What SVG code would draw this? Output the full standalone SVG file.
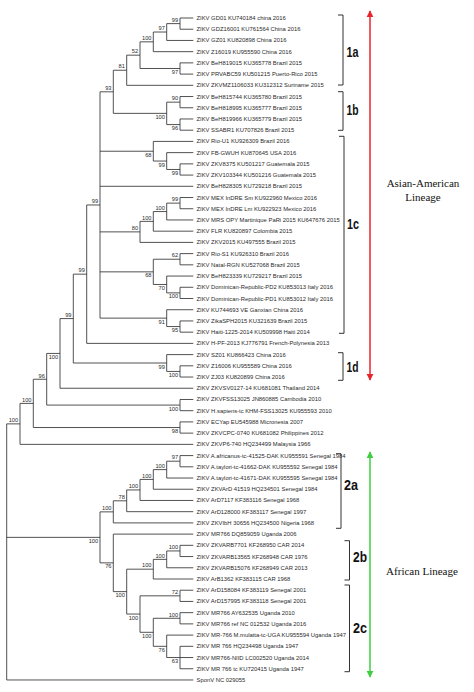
<svg xmlns="http://www.w3.org/2000/svg" width="474" height="692" viewBox="0 0 474 692">
<style>
.lf{font-family:"Liberation Sans",Arial,sans-serif;font-size:5.85px;fill:#2a2a2a}
.bs{font-family:"Liberation Sans",Arial,sans-serif;font-size:5.7px;fill:#2a2a2a;text-anchor:end}
.tr{fill:none;stroke:#333;stroke-width:0.85}
.br{fill:none;stroke:#333;stroke-width:1}
.cl{font-family:"Liberation Sans",Arial,sans-serif;font-size:15px;font-weight:bold;fill:#111}
.ln{font-family:"Liberation Serif","Times New Roman",serif;font-size:11px;fill:#111;text-anchor:middle}
</style>
<defs>
<marker id="ar" viewBox="0 0 10 10" refX="9" refY="5" markerWidth="7" markerHeight="8" markerUnits="userSpaceOnUse" orient="auto-start-reverse"><path d="M0,0L10,5L0,10z" fill="#e8242c"/></marker>
<marker id="ag" viewBox="0 0 10 10" refX="9" refY="5" markerWidth="7" markerHeight="8" markerUnits="userSpaceOnUse" orient="auto-start-reverse"><path d="M0,0L10,5L0,10z" fill="#3fce3f"/></marker>
</defs>
<rect width="474" height="692" fill="#fff"/>
<g id="connectors" class="tr">
<path d="M180,18V29.22M166.7,23.61V40.44M153.3,32.03V51.66M180,62.88V74.1M140,41.84V68.49M126.7,55.17V85.32M180,96.54V107.76M180,118.98V130.2M166.7,102.15V124.59M113.3,70.24V113.37M180,163.86V175.08M166.7,152.64V169.47M153.3,141.42V161.05M180,197.52V208.74M166.7,203.13V219.96M153.3,211.55V231.18M140,221.36V242.4M180,253.62V264.84M180,287.28V298.5M166.7,276.06V292.89M153.3,259.23V284.47M180,320.94V332.16M166.7,309.72V326.55M100,91.81V318.13M86.7,204.97V343.38M180,365.82V377.04M166.7,354.6V371.43M73.3,274.17V363.01M60,318.59V388.26M180,399.48V410.7M46.7,353.43V405.09M180,421.92V433.14M33.3,379.26V427.53M20,403.4V444.36M180,455.58V466.8M166.7,461.19V478.02M153.3,469.61V489.24M140,479.42V500.46M126.7,489.94V511.68M113.3,500.81V522.9M180,545.34V556.56M166.7,550.95V567.78M153.3,559.37V579M180,590.22V601.44M180,612.66V623.88M180,646.32V668.76M166.7,635.1V657.54M153.3,618.27V646.32M140,595.83V632.3M126.7,569.18V614.06M113.3,534.12V591.62M100,511.86V562.87M6.7,423.88V679.98"/>
<path d="M166.7,23.61H180M153.3,32.03H166.7M140,41.84H153.3M140,68.49H180M126.7,55.17H140M113.3,70.24H126.7M166.7,102.15H180M166.7,124.59H180M113.3,113.37H166.7M100,91.81H113.3M166.7,169.47H180M153.3,161.05H166.7M100,151.24H153.3M166.7,203.13H180M153.3,211.55H166.7M140,221.36H153.3M100,231.88H140M153.3,259.23H180M166.7,292.89H180M153.3,284.47H166.7M100,271.85H153.3M166.7,326.55H180M100,318.13H166.7M86.7,204.97H100M73.3,274.17H86.7M166.7,371.43H180M73.3,363.01H166.7M60,318.59H73.3M46.7,353.43H60M46.7,405.09H180M33.3,379.26H46.7M33.3,427.53H180M20,403.4H33.3M6.7,423.88H20M166.7,461.19H180M153.3,469.61H166.7M140,479.42H153.3M126.7,489.94H140M113.3,500.81H126.7M100,511.86H113.3M166.7,550.95H180M153.3,559.37H166.7M126.7,569.18H153.3M140,595.83H180M153.3,618.27H180M166.7,657.54H180M153.3,646.32H166.7M140,632.3H153.3M126.7,614.06H140M113.3,591.62H126.7M100,562.87H113.3M6.7,537.37H100"/>
<path d="M180,18H193.3M180,29.22H193.3M166.7,40.44H193.3M153.3,51.66H193.3M180,62.88H193.3M180,74.1H193.3M126.7,85.32H193.3M180,96.54H193.3M180,107.76H193.3M180,118.98H193.3M180,130.2H193.3M153.3,141.42H193.3M166.7,152.64H193.3M180,163.86H193.3M180,175.08H193.3M100,186.3H193.3M180,197.52H193.3M180,208.74H193.3M166.7,219.96H193.3M153.3,231.18H193.3M140,242.4H193.3M180,253.62H193.3M180,264.84H193.3M166.7,276.06H193.3M180,287.28H193.3M180,298.5H193.3M166.7,309.72H193.3M180,320.94H193.3M180,332.16H193.3M86.7,343.38H193.3M166.7,354.6H193.3M180,365.82H193.3M180,377.04H193.3M60,388.26H193.3M180,399.48H193.3M180,410.7H193.3M180,421.92H193.3M180,433.14H193.3M20,444.36H193.3M180,455.58H193.3M180,466.8H193.3M166.7,478.02H193.3M153.3,489.24H193.3M140,500.46H193.3M126.7,511.68H193.3M113.3,522.9H193.3M113.3,534.12H193.3M180,545.34H193.3M180,556.56H193.3M166.7,567.78H193.3M153.3,579H193.3M180,590.22H193.3M180,601.44H193.3M180,612.66H193.3M180,623.88H193.3M166.7,635.1H193.3M180,646.32H193.3M180,657.54H193.3M180,668.76H193.3M6.7,679.98H193.3"/>
</g>
<g id="bootstrap">
<text class="bs" x="178.2" y="21.8">99</text>
<text class="bs" x="164.9" y="30.2">97</text>
<text class="bs" x="151.5" y="40">100</text>
<text class="bs" x="138.2" y="53.4">52</text>
<text class="bs" x="178.2" y="74">97</text>
<text class="bs" x="124.9" y="68.4">81</text>
<text class="bs" x="111.5" y="90">93</text>
<text class="bs" x="178.2" y="100.4">90</text>
<text class="bs" x="164.9" y="118.9">100</text>
<text class="bs" x="178.2" y="130.1">96</text>
<text class="bs" x="151.5" y="156.7">68</text>
<text class="bs" x="164.9" y="166.6">99</text>
<text class="bs" x="178.2" y="175">99</text>
<text class="bs" x="178.2" y="201.3">99</text>
<text class="bs" x="164.9" y="209.8">100</text>
<text class="bs" x="151.5" y="219.6">100</text>
<text class="bs" x="138.2" y="230.1">80</text>
<text class="bs" x="178.2" y="257.4">62</text>
<text class="bs" x="151.5" y="277.4">68</text>
<text class="bs" x="164.9" y="290">70</text>
<text class="bs" x="178.2" y="298.4">100</text>
<text class="bs" x="164.9" y="323.6">91</text>
<text class="bs" x="178.2" y="332.1">95</text>
<text class="bs" x="98.2" y="203.2">99</text>
<text class="bs" x="84.9" y="272.4">99</text>
<text class="bs" x="164.9" y="368.5">99</text>
<text class="bs" x="178.2" y="376.9">100</text>
<text class="bs" x="71.5" y="316.8">99</text>
<text class="bs" x="58.2" y="358.9">100</text>
<text class="bs" x="44.9" y="377.5">96</text>
<text class="bs" x="31.5" y="401.6">100</text>
<text class="bs" x="18.2" y="422.1">100</text>
<text class="bs" x="178.2" y="410.6">100</text>
<text class="bs" x="178.2" y="433">98</text>
<text class="bs" x="178.2" y="459.4">97</text>
<text class="bs" x="164.9" y="467.8">100</text>
<text class="bs" x="151.5" y="477.6">100</text>
<text class="bs" x="138.2" y="488.1">100</text>
<text class="bs" x="124.9" y="499">78</text>
<text class="bs" x="111.5" y="510.1">100</text>
<text class="bs" x="98.2" y="542.9">100</text>
<text class="bs" x="178.2" y="549.2">100</text>
<text class="bs" x="164.9" y="557.6">100</text>
<text class="bs" x="151.5" y="567.4">100</text>
<text class="bs" x="111.5" y="568.4">76</text>
<text class="bs" x="124.9" y="597.1">100</text>
<text class="bs" x="178.2" y="594">72</text>
<text class="bs" x="138.2" y="619.6">100</text>
<text class="bs" x="178.2" y="616.5">100</text>
<text class="bs" x="151.5" y="637.8">100</text>
<text class="bs" x="164.9" y="651.8">76</text>
<text class="bs" x="178.2" y="663">63</text>
</g>
<g id="leaf-1"><text class="lf" x="196.5" y="20">ZIKV GD01 KU740184 china 2016</text></g>
<g id="leaf-2"><text class="lf" x="196.5" y="31.22">ZIKV GDZ16001 KU761564 China 2016</text></g>
<g id="leaf-3"><text class="lf" x="196.5" y="42.44">ZIKV GZ01 KU820898 China 2016</text></g>
<g id="leaf-4"><text class="lf" x="196.5" y="53.66">ZIKV Z16019 KU955590 China 2016</text></g>
<g id="leaf-5"><text class="lf" x="196.5" y="64.88">ZIKV BeH819015 KU365778 Brazil 2015</text></g>
<g id="leaf-6"><text class="lf" x="196.5" y="76.1">ZIKV PRVABC59 KU501215 Puerto-Rico 2015</text></g>
<g id="leaf-7"><text class="lf" x="196.5" y="87.32">ZIKV ZKVMZ1106033 KU312312 Suriname 2015</text></g>
<g id="leaf-8"><text class="lf" x="196.5" y="98.54">ZIKV BeH815744 KU365780 Brazil 2015</text></g>
<g id="leaf-9"><text class="lf" x="196.5" y="109.76">ZIKV BeH818995 KU365777 Brazil 2015</text></g>
<g id="leaf-10"><text class="lf" x="196.5" y="120.98">ZIKV BeH819966 KU365779 Brazil 2015</text></g>
<g id="leaf-11"><text class="lf" x="196.5" y="132.2">ZIKV SSABR1 KU707826 Brazil 2015</text></g>
<g id="leaf-12"><text class="lf" x="196.5" y="143.42">ZIKV Rio-U1 KU926309 Brazil 2016</text></g>
<g id="leaf-13"><text class="lf" x="196.5" y="154.64">ZIKV FB-GWUH KU870645 USA 2016</text></g>
<g id="leaf-14"><text class="lf" x="196.5" y="165.86">ZIKV ZKV8375 KU501217 Guatemala 2015</text></g>
<g id="leaf-15"><text class="lf" x="196.5" y="177.08">ZIKV ZKV103344 KU501216 Guatemala 2015</text></g>
<g id="leaf-16"><text class="lf" x="196.5" y="188.3">ZIKV BeH828305 KU729218 Brazil 2015</text></g>
<g id="leaf-17"><text class="lf" x="196.5" y="199.52">ZIKV MEX InDRE Sm KU922960 Mexico 2016</text></g>
<g id="leaf-18"><text class="lf" x="196.5" y="210.74">ZIKV MEX InDRE Lm KU922923 Mexico 2016</text></g>
<g id="leaf-19"><text class="lf" x="196.5" y="221.96">ZIKV MRS OPY Martinique PaRi 2015 KU647676 2015</text></g>
<g id="leaf-20"><text class="lf" x="196.5" y="233.18">ZIKV FLR KU820897 Colombia 2015</text></g>
<g id="leaf-21"><text class="lf" x="196.5" y="244.4">ZIKV ZKV2015 KU497555 Brazil 2015</text></g>
<g id="leaf-22"><text class="lf" x="196.5" y="255.62">ZIKV Rio-S1 KU926310 Brazil 2016</text></g>
<g id="leaf-23"><text class="lf" x="196.5" y="266.84">ZIKV Natal-RGN KU527068 Brazil 2015</text></g>
<g id="leaf-24"><text class="lf" x="196.5" y="278.06">ZIKV BeH823339 KU729217 Brazil 2015</text></g>
<g id="leaf-25"><text class="lf" x="196.5" y="289.28">ZIKV Dominican-Republic-PD2 KU853013 Italy 2016</text></g>
<g id="leaf-26"><text class="lf" x="196.5" y="300.5">ZIKV Dominican-Republic-PD1 KU853012 Italy 2016</text></g>
<g id="leaf-27"><text class="lf" x="196.5" y="311.72">ZIKV KU744693 VE Ganxian China 2016</text></g>
<g id="leaf-28"><text class="lf" x="196.5" y="322.94">ZIKV ZikaSPH2015 KU321639 Brazil 2015</text></g>
<g id="leaf-29"><text class="lf" x="196.5" y="334.16">ZIKV Haiti-1225-2014 KU509998 Haiti 2014</text></g>
<g id="leaf-30"><text class="lf" x="196.5" y="345.38">ZIKV H-PF-2013 KJ776791 French-Polynesia 2013</text></g>
<g id="leaf-31"><text class="lf" x="196.5" y="356.6">ZIKV SZ01 KU866423 China 2016</text></g>
<g id="leaf-32"><text class="lf" x="196.5" y="367.82">ZIKV Z16006 KU955589 China 2016</text></g>
<g id="leaf-33"><text class="lf" x="196.5" y="379.04">ZIKV ZJ03 KU820899 China 2016</text></g>
<g id="leaf-34"><text class="lf" x="196.5" y="390.26">ZIKV ZKVSV0127-14 KU681081 Thailand 2014</text></g>
<g id="leaf-35"><text class="lf" x="196.5" y="401.48">ZIKV ZKVFSS13025 JN860885 Cambodia 2010</text></g>
<g id="leaf-36"><text class="lf" x="196.5" y="412.7">ZIKV H.sapiens-tc KHM-FSS13025 KU955593 2010</text></g>
<g id="leaf-37"><text class="lf" x="196.5" y="423.92">ZIKV ECYap EU545988 Micronesia 2007</text></g>
<g id="leaf-38"><text class="lf" x="196.5" y="435.14">ZIKV ZKVCPC-0740 KU681082 Philippines 2012</text></g>
<g id="leaf-39"><text class="lf" x="196.5" y="446.36">ZIKV ZKVP6-740 HQ234499 Malaysia 1966</text></g>
<g id="leaf-40"><text class="lf" x="196.5" y="457.58">ZIKV A.africanus-tc-41525-DAK KU955591 Senegal 1984</text></g>
<g id="leaf-41"><text class="lf" x="196.5" y="468.8">ZIKV A.taylori-tc-41662-DAK KU955592 Senegal 1984</text></g>
<g id="leaf-42"><text class="lf" x="196.5" y="480.02">ZIKV A.taylori-tc-41671-DAK KU955595 Senegal 1984</text></g>
<g id="leaf-43"><text class="lf" x="196.5" y="491.24">ZIKV ZKVArD 41519 HQ234501 Senegal 1984</text></g>
<g id="leaf-44"><text class="lf" x="196.5" y="502.46">ZIKV ArD7117 KF383116 Senegal 1968</text></g>
<g id="leaf-45"><text class="lf" x="196.5" y="513.68">ZIKV ArD128000 KF383117 Senegal 1997</text></g>
<g id="leaf-46"><text class="lf" x="196.5" y="524.9">ZIKV ZKVIbH 30656 HQ234500 Nigeria 1968</text></g>
<g id="leaf-47"><text class="lf" x="196.5" y="536.12">ZIKV MR766 DQ859059 Uganda 2006</text></g>
<g id="leaf-48"><text class="lf" x="196.5" y="547.34">ZIKV ZKVARB7701 KF268950 CAR 2014</text></g>
<g id="leaf-49"><text class="lf" x="196.5" y="558.56">ZIKV ZKVARB13565 KF268948 CAR 1976</text></g>
<g id="leaf-50"><text class="lf" x="196.5" y="569.78">ZIKV ZKVARB15076 KF268949 CAR 2013</text></g>
<g id="leaf-51"><text class="lf" x="196.5" y="581">ZIKV ArB1362 KF383115 CAR 1968</text></g>
<g id="leaf-52"><text class="lf" x="196.5" y="592.22">ZIKV ArD158084 KF383119 Senegal 2001</text></g>
<g id="leaf-53"><text class="lf" x="196.5" y="603.44">ZIKV ArD157995 KF383118 Senegal 2001</text></g>
<g id="leaf-54"><text class="lf" x="196.5" y="614.66">ZIKV MR766 AY632535 Uganda 2010</text></g>
<g id="leaf-55"><text class="lf" x="196.5" y="625.88">ZIKV MR766 ref NC 012532 Uganda 2016</text></g>
<g id="leaf-56"><text class="lf" x="196.5" y="637.1">ZIKV MR-766 M.mulatta-tc-UGA KU955594 Uganda 1947</text></g>
<g id="leaf-57"><text class="lf" x="196.5" y="648.32">ZIKV MR 766 HQ234498 Uganda 1947</text></g>
<g id="leaf-58"><text class="lf" x="196.5" y="659.54">ZIKV MR766-NIID LC002520 Uganda 2014</text></g>
<g id="leaf-59"><text class="lf" x="196.5" y="670.76">ZIKV MR 766 tc KU720415 Uganda 1947</text></g>
<g id="leaf-60"><text class="lf" x="196.5" y="681.98">SponV NC 029055</text></g>
<g id="clade-1a"><path class="br" d="M338,15H343V85H338"/><text class="cl" x="346.5" y="56.5" textLength="12" lengthAdjust="spacingAndGlyphs">1a</text></g>
<g id="clade-1b"><path class="br" d="M338,91.7H343V130.3H338"/><text class="cl" x="346.5" y="114.5" textLength="12" lengthAdjust="spacingAndGlyphs">1b</text></g>
<g id="clade-1c"><path class="br" d="M339,136.3H344V333.3H339"/><text class="cl" x="347" y="229" textLength="12" lengthAdjust="spacingAndGlyphs">1c</text></g>
<g id="clade-1d"><path class="br" d="M338,352.7H343V380.3H338"/><text class="cl" x="346.5" y="371.5" textLength="12" lengthAdjust="spacingAndGlyphs">1d</text></g>
<g id="clade-2a"><path class="br" d="M336,453.7H341V528.3H336"/><text class="cl" x="344" y="490" textLength="14" lengthAdjust="spacingAndGlyphs">2a</text></g>
<g id="clade-2b"><path class="br" d="M344.5,540.7H349.5V580H344.5"/><text class="cl" x="353" y="561.5" textLength="14" lengthAdjust="spacingAndGlyphs">2b</text></g>
<g id="clade-2c"><path class="br" d="M344.5,585H349.5V671.7H344.5"/><text class="cl" x="353" y="633" textLength="14" lengthAdjust="spacingAndGlyphs">2c</text></g>
<g id="asian-lineage">
<line x1="370" y1="11" x2="370" y2="380" stroke="#e8242c" stroke-width="1.5" marker-start="url(#ar)" marker-end="url(#ar)"/>
<text class="ln" x="423" y="187">Asian-American</text>
<text class="ln" x="423" y="201">Lineage</text>
</g>
<g id="african-lineage">
<line x1="370" y1="452" x2="370" y2="677" stroke="#3fce3f" stroke-width="1.5" marker-start="url(#ag)" marker-end="url(#ag)"/>
<text class="ln" x="422" y="575">African Lineage</text>
</g>
</svg>
